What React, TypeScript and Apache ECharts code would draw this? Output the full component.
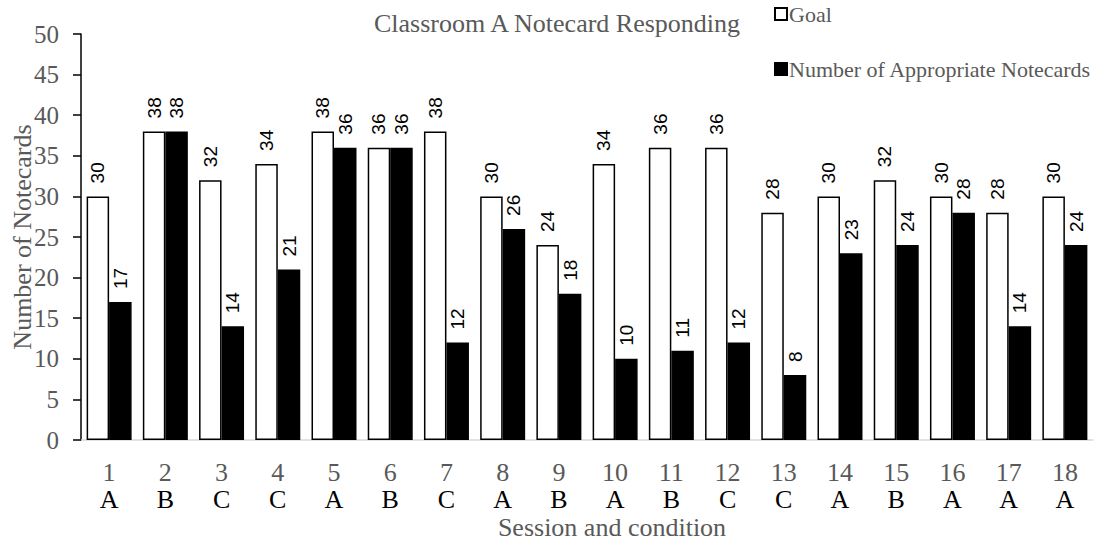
import React, { useEffect, useRef } from "react";
import * as echarts from "echarts";

const sessions = ["1", "2", "3", "4", "5", "6", "7", "8", "9", "10", "11", "12", "13", "14", "15", "16", "17", "18"];
const conditions = ["A", "B", "C", "C", "A", "B", "C", "A", "B", "A", "B", "C", "C", "A", "B", "A", "A", "A"];
const goal = [30, 38, 32, 34, 38, 36, 38, 30, 24, 34, 36, 36, 28, 30, 32, 30, 28, 30];
const appropriate = [17, 38, 14, 21, 36, 36, 12, 26, 18, 10, 11, 12, 8, 23, 24, 28, 14, 24];
const yTicks = [0, 5, 10, 15, 20, 25, 30, 35, 40, 45, 50];

const SERIF = "'Liberation Serif', 'Times New Roman', serif";
const SANS = "'Liberation Sans', Arial, sans-serif";
const GRAY = "#595959";

export default function App() {
  const ref = useRef<HTMLDivElement>(null);

  useEffect(() => {
    if (!ref.current) return;
    const chart = echarts.init(ref.current, null, { renderer: "svg" });
    const categories = sessions.map((s, i) => s + "\n" + conditions[i]);

    const barLabel = {
      show: true,
      position: "top",
      rotate: 90,
      align: "left",
      verticalAlign: "middle",
      distance: 13,
      color: "#000",
      fontFamily: SANS,
      fontSize: 19,
    };

    chart.setOption({
      animation: false,
      backgroundColor: "#fff",
      title: {
        text: "Classroom A Notecard Responding",
        left: 552,
        top: 5,
        textAlign: "center",
        textStyle: { fontFamily: SERIF, fontSize: 26, fontWeight: "normal", color: GRAY },
      },
      legend: {
        orient: "vertical",
        left: 769,
        top: -2,
        itemGap: 33,
        itemWidth: 12,
        itemHeight: 12,
        icon: "rect",
        textStyle: { fontFamily: SERIF, fontSize: 22, color: GRAY, padding: [0, 0, 0, -3] },
        data: ["Goal", "Number of Appropriate Notecards"],
      },
      grid: { left: 81, right: 6, top: 34, bottom: 104, containLabel: false, outerBoundsMode: "none" },
      xAxis: {
        type: "category",
        data: categories,
        name: "Session and condition",
        nameLocation: "middle",
        nameGap: 74,
        nameMoveOverlap: false,
        nameTextStyle: { fontFamily: SERIF, fontSize: 26, color: GRAY, padding: [0, 0, 0, 50] },
        axisLine: { lineStyle: { color: "#d9d9d9", width: 1.5 } },
        axisTick: { show: false },
        axisLabel: {
          interval: 0,
          margin: 19,
          formatter: (v: string) => {
            const [n, c] = v.split("\n");
            return "{n|" + n + "}\n{c|" + c + "}";
          },
          rich: {
            n: { fontFamily: SERIF, fontSize: 26, color: GRAY, lineHeight: 27 },
            c: { fontFamily: SERIF, fontSize: 26, color: "#000", lineHeight: 27 },
          },
        },
      },
      yAxis: {
        type: "value",
        min: 0,
        max: 50,
        interval: 5,
        name: "Number of Notecards",
        nameLocation: "middle",
        nameGap: 46,
        nameMoveOverlap: false,
        nameTextStyle: { fontFamily: SERIF, fontSize: 26, color: GRAY },
        axisLine: { show: true, lineStyle: { color: "#000", width: 1.5 } },
        axisTick: { show: true, inside: false, length: 8, lineStyle: { color: "#000", width: 1.5 } },
        splitLine: { show: false },
        axisLabel: {
          margin: 22,
          fontFamily: SERIF,
          fontSize: 25,
          color: GRAY,
          formatter: (v: number) => (yTicks.includes(v) ? String(v) : ""),
        },
      },
      series: [
        {
          name: "Goal",
          type: "bar",
          data: goal,
          barGap: "0%",
          barCategoryGap: "20%",
          itemStyle: { color: "#fff", borderColor: "#000", borderWidth: 1.5 },
          label: barLabel,
        },
        {
          name: "Number of Appropriate Notecards",
          type: "bar",
          data: appropriate,
          barGap: "0%",
          barCategoryGap: "20%",
          itemStyle: { color: "#000", borderColor: "#000", borderWidth: 1.5 },
          label: barLabel,
        },
      ],
    });

    return () => chart.dispose();
  }, []);

  return (
    <div
      ref={ref}
      style={{ position: "fixed", left: 0, top: 0, width: 1099, height: 544, background: "#fff" }}
    />
  );
}
